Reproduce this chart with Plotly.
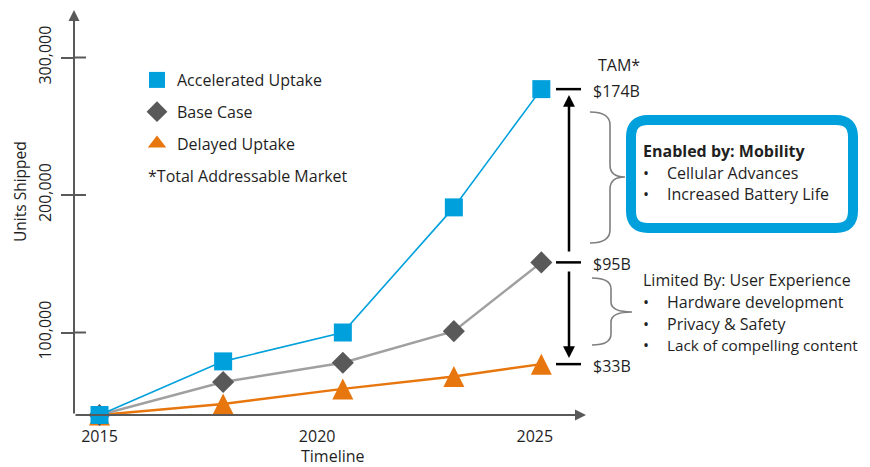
import plotly.graph_objects as go

# ---------------- data ----------------
years = [2015, 2017.84, 2020.59, 2023.14, 2025.15]
accelerated = [40000, 79000, 100000, 191000, 277000]
base_case = [40000, 64000, 78000, 101000, 151000]
delayed = [40000, 48000, 59000, 68000, 77000]
series_names = ["Accelerated Uptake", "Base Case", "Delayed Uptake"]

x_tick_vals = [2015, 2020, 2025]
y_tick_vals = [100000, 200000, 300000]
y_tick_text = ["100,000", "200,000", "300,000"]

tam_labels = ["$174B", "$95B", "$33B"]
enabled_title = "Enabled by: Mobility"
enabled_items = ["Cellular Advances", "Increased Battery Life"]
limited_title = "Limited By: User Experience"
limited_items = ["Hardware development", "Privacy & Safety", "Lack of compelling content"]

# ---------------- styling ----------------
FONT = "Open Sans"
FS = 16
TXT = "#1f1f1f"
AXIS = "#595959"
BLUE = "#00A0DC"
GRAY_LINE = "#A0A0A0"
GRAY_MK = "#595959"
ORANGE = "#E8760E"
BRACE = "#7F7F7F"

# page body has an 8px margin: design in window pixels, figure is offset by 8
OFF = 8
W, H = 870 - OFF, 467 - OFF
PLOT_L, PLOT_B = 74, 415            # window pixel of left / bottom of plot area
ML = PLOT_L - OFF
MB = H - (PLOT_B - OFF)
PW = W - ML
PH = H - MB
X_RANGE = [2014.414, 2032.70]
Y_RANGE = [40000, 336000]


def px(x):
    return (x - PLOT_L) / PW


def py(y):
    return (PLOT_B - y) / PH


def path(points):
    out = []
    for cmd, pts in points:
        if cmd == "Z":
            out.append("Z")
            continue
        coords = " ".join(f"{px(a):.5f},{py(b):.5f}" for a, b in pts)
        out.append(f"{cmd} {coords}")
    return " ".join(out)


def label(x, y, text, anchor="left", size=FS, **kw):
    return dict(xref="paper", yref="paper", x=px(x), y=py(y), text=text, showarrow=False,
                font=dict(size=size, color=TXT), xanchor=anchor, yanchor="middle", **kw)


fig = go.Figure()

# lines
fig.add_trace(go.Scatter(x=years, y=delayed, mode="lines", line=dict(color=ORANGE, width=2.5),
                         showlegend=False, hoverinfo="skip"))
fig.add_trace(go.Scatter(x=years, y=base_case, mode="lines", line=dict(color=GRAY_LINE, width=2.5),
                         showlegend=False, hoverinfo="skip"))
fig.add_trace(go.Scatter(x=years, y=accelerated, mode="lines", line=dict(color=BLUE, width=1.6),
                         showlegend=False, hoverinfo="skip"))

# markers (drawn so that the accelerated square sits on top)
fig.add_trace(go.Scatter(x=years, y=delayed, mode="markers", name=series_names[2], showlegend=False,
                         cliponaxis=False,
                         marker=dict(symbol="arrow-down", angle=180, size=21, standoff=10.5, color=ORANGE)))
fig.add_trace(go.Scatter(x=years, y=base_case, mode="markers", name=series_names[1], showlegend=False,
                         cliponaxis=False,
                         marker=dict(symbol="diamond", size=17, color=GRAY_MK)))
fig.add_trace(go.Scatter(x=years, y=accelerated, mode="markers", name=series_names[0], showlegend=False,
                         cliponaxis=False,
                         marker=dict(symbol="square", size=18, color=BLUE)))

# legend entries
legend_markers = [
    dict(symbol="square", size=16, color=BLUE),
    dict(symbol="diamond", size=16, color=GRAY_MK),
    dict(symbol="triangle-up", size=16, color=ORANGE),
]
for i, (nm, mk) in enumerate(zip(series_names, legend_markers)):
    fig.add_trace(go.Scatter(x=[None], y=[None], mode="markers", name=nm, legendgroup=f"g{i}",
                             legendrank=i + 1, marker=mk))

shapes = []
annotations = []

# inner half of y ticks
for v in y_tick_vals:
    shapes.append(dict(type="line", xref="paper", yref="y", x0=0, x1=px(86), y0=v, y1=v,
                       line=dict(color=AXIS, width=2)))

# axes with arrows
annotations.append(dict(xref="paper", yref="paper", x=0, y=py(10), ax=0, ay=405, text="",
                        showarrow=True, arrowhead=2, arrowsize=1.1, arrowwidth=2, arrowcolor=AXIS))
annotations.append(dict(xref="paper", yref="paper", x=px(586), y=0, ax=-512, ay=0, text="",
                        showarrow=True, arrowhead=2, arrowsize=1.1, arrowwidth=2, arrowcolor=AXIS))

# axis titles
annotations.append(label(20, 192, "Units Shipped", anchor="center", size=15.5, textangle=-90))
annotations.append(label(333, 456, "Timeline", anchor="center", size=16))

# footnotes
annotations.append(label(146, 176, "*Total Addressable Market"))
annotations.append(label(596, 65, "TAM*"))

# TAM levels (at the 2025 value of each scenario)
last_vals = [accelerated[-1], base_case[-1], delayed[-1]]
for lab, v in zip(tam_labels, last_vals):
    shapes.append(dict(type="line", xref="paper", yref="y", x0=px(556), x1=px(581), y0=v, y1=v,
                       line=dict(color="black", width=2.5)))
    annotations.append(dict(xref="paper", yref="y", x=px(591), y=v, yshift=-2, text=lab, showarrow=False,
                            font=dict(size=FS, color=TXT), xanchor="left", yanchor="middle"))

# double arrow broken at the base level
annotations.append(dict(xref="paper", yref="paper", x=px(569), y=py(95), ax=0, ay=253 - 95, text="",
                        showarrow=True, arrowhead=2, arrowsize=0.95, arrowwidth=2.5, arrowcolor="black"))
annotations.append(dict(xref="paper", yref="paper", x=px(569), y=py(358), ax=0, ay=270 - 358, text="",
                        showarrow=True, arrowhead=2, arrowsize=0.95, arrowwidth=2.5, arrowcolor="black"))

# braces
shapes.append(dict(type="path", xref="paper", yref="paper", line=dict(color=BRACE, width=1.6),
                   path=path([("M", [(590, 112)]), ("Q", [(610, 112), (610, 125)]), ("L", [(610, 165)]),
                              ("Q", [(610, 177), (625, 177)]), ("Q", [(610, 177), (610, 189)]),
                              ("L", [(610, 230)]), ("Q", [(610, 243), (590, 243)])])))
shapes.append(dict(type="path", xref="paper", yref="paper", line=dict(color=BRACE, width=1.6),
                   path=path([("M", [(592, 278)]), ("Q", [(611, 278), (611, 289)]), ("L", [(611, 302)]),
                              ("Q", [(611, 312), (632, 312)]), ("Q", [(611, 312), (611, 322)]),
                              ("L", [(611, 334)]), ("Q", [(611, 345), (592, 345)])])))

# blue rounded box
shapes.append(dict(type="path", xref="paper", yref="paper", line=dict(color=BLUE, width=10),
                   fillcolor="white",
                   path=path([("M", [(648, 120)]), ("L", [(836, 120)]), ("Q", [(853, 120), (853, 137)]),
                              ("L", [(853, 211)]), ("Q", [(853, 228), (836, 228)]), ("L", [(648, 228)]),
                              ("Q", [(631, 228), (631, 211)]), ("L", [(631, 137)]),
                              ("Q", [(631, 120), (648, 120)]), ("Z", [])])))

STEP = 21.7
annotations.append(label(641, 150.5, f"<b>{enabled_title}</b>"))
for i, item in enumerate(enabled_items):
    yy = 172.5 + i * STEP
    annotations.append(label(641, yy, "•"))
    annotations.append(label(665, yy, item))

annotations.append(label(641, 280, limited_title))
for i, item in enumerate(limited_items):
    yy = 302 + i * STEP
    annotations.append(label(641, yy, "•"))
    annotations.append(label(665, yy, item, size=15.3 if len(item) > 22 else FS))

fig.update_layout(
    width=W, height=H,
    margin=dict(l=ML, r=0, t=0, b=MB, pad=0),
    paper_bgcolor="white", plot_bgcolor="white",
    font=dict(family=FONT, color=TXT, size=FS),
    showlegend=True,
    legend=dict(x=px(137), y=py(63), xanchor="left", yanchor="top", bgcolor="rgba(0,0,0,0)",
                font=dict(size=FS, color=TXT), tracegroupgap=8, traceorder="grouped"),
    xaxis=dict(range=X_RANGE, showgrid=False, zeroline=False, showline=False, ticks="",
               tickvals=x_tick_vals, ticktext=[str(v) for v in x_tick_vals], ticklabelstandoff=10,
               tickfont=dict(size=FS, color=TXT)),
    yaxis=dict(range=Y_RANGE, showgrid=False, zeroline=False, showline=False, ticks="outside",
               ticklen=12, tickwidth=2, tickcolor=AXIS, tickvals=y_tick_vals, ticktext=y_tick_text,
               tickangle=-90, ticklabelstandoff=4, tickfont=dict(size=FS, color=TXT)),
    shapes=shapes,
    annotations=annotations,
)

fig.write_html("out.html")
